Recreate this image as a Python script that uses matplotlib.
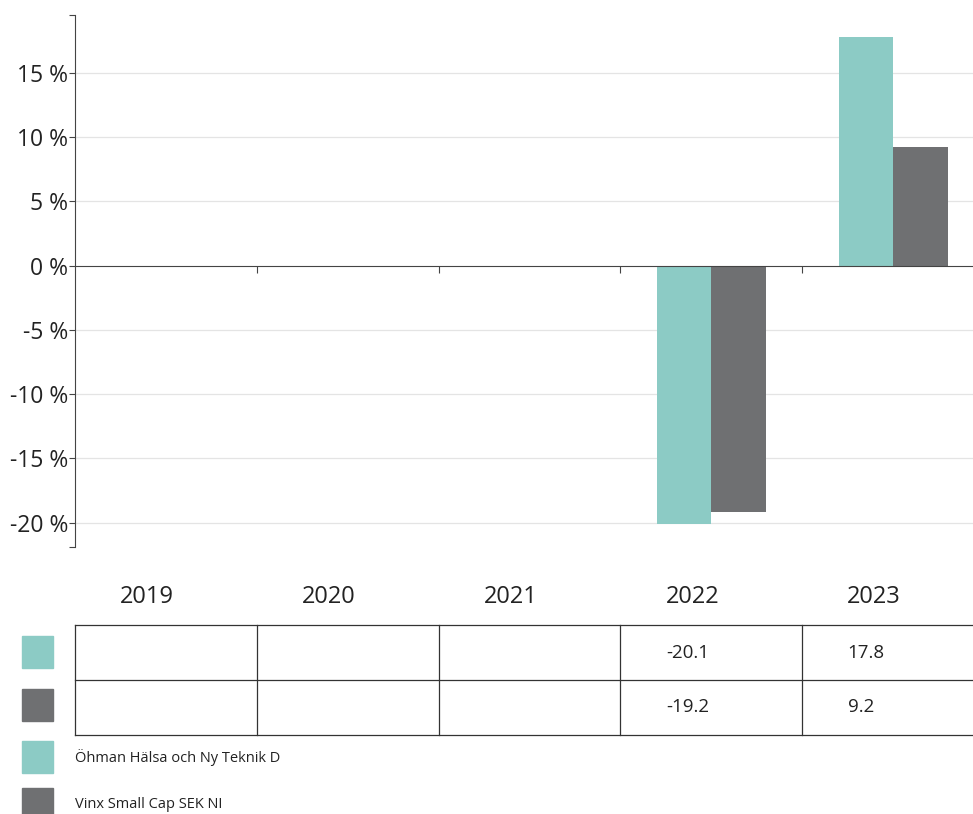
import matplotlib.pyplot as plt
from matplotlib.patches import Rectangle

# Chart data
years = ["2019", "2020", "2021", "2022", "2023"]
series_names = ["Öhman Hälsa och Ny Teknik D", "Vinx Small Cap SEK NI"]
fund_values = [None, None, None, -20.1, 17.8]
index_values = [None, None, None, -19.2, 9.2]
colors = ["#8ccbc5", "#6f7072"]

y_ticks = [-20, -15, -10, -5, 0, 5, 10, 15]
y_min, y_max = -21.9, 19.5

plt.rcParams['font.family'] = ['Open Sans', 'DejaVu Sans']

fig = plt.figure(figsize=(9.73, 8.14), dpi=100)
W, H = 973, 814


def fig_box(left, top, right, bottom):
    # pixel box -> figure fraction [l, b, w, h]
    return [left / W, 1 - bottom / H, (right - left) / W, (bottom - top) / H]


# --- bar chart (runs a little past the right edge, like the original crop) --- #
ax = fig.add_axes(fig_box(75, 15, 984, 547))
x = list(range(len(years)))
width = 0.3
all_series = [fund_values, index_values]
for i, vals in enumerate(all_series):
    xs = [p + (i - 0.5) * width for p, v in zip(x, vals) if v is not None]
    hs = [v for v in vals if v is not None]
    ax.bar(xs, hs, width=width, color=colors[i], zorder=2)

ax.set_xlim(-0.5, len(years) - 0.5)
ax.set_ylim(y_min, y_max)
ax.set_yticks(y_ticks)
ax.set_yticklabels([f"{t} %" for t in y_ticks], fontsize=16.5, color="#222222")
ax.set_yticks([y_min, y_max], minor=True)
ax.tick_params(axis='y', which='both', length=4, width=0.8, color="#444444", pad=1)
for t in y_ticks:
    if t != 0:
        ax.axhline(t, color="#e4e4e4", lw=0.9, zorder=0)

# zero line with category separators
ax.spines['bottom'].set_position(('data', 0))
ax.spines['bottom'].set_color("#444444")
ax.spines['bottom'].set_zorder(3)
ax.spines['left'].set_color("#444444")
ax.spines['top'].set_visible(False)
ax.spines['right'].set_visible(False)
ax.set_xticks([p + 0.5 for p in x[:-1]])
ax.set_xticklabels([])
ax.tick_params(axis='x', length=5, width=0.8, color="#444444", direction='out')

# --- data table --- #
tax = fig.add_axes(fig_box(75, 625, 984, 735), sharex=ax)
tax.set_ylim(0, 2)
tax.axis('off')
for yy in [0, 1, 2]:
    tax.plot([-0.5, len(years) - 0.5], [yy, yy], color="#333333", lw=0.9, clip_on=False)
for xx in [p - 0.5 for p in x] + [len(years) - 0.5]:
    tax.plot([xx, xx], [0, 2], color="#333333", lw=0.9, clip_on=False)
for p, yr in zip(x, years):
    # year headers sit slightly left of the column centre
    tax.text(p - 0.105, 2.51, yr, ha='center', va='center', fontsize=17, color="#222222")
for row, vals in enumerate(all_series):
    for p, v in zip(x, vals):
        if v is not None:
            tax.text(p - 0.25, 1.5 - row, f"{v:.1f}", ha='left', va='center',
                     fontsize=13.5, color="#222222")

# row keys next to table
for row in range(2):
    top = 636 + row * 53
    fig.patches.append(Rectangle((22 / W, 1 - (top + 32) / H), 31 / W, 32 / H,
                                 transform=fig.transFigure, color=colors[row]))

# legend
for row, name in enumerate(series_names):
    top = 741 + row * 47
    fig.patches.append(Rectangle((22 / W, 1 - (top + 32) / H), 31 / W, 32 / H,
                                 transform=fig.transFigure, color=colors[row]))
    fig.text(75 / W, 1 - (top + 16) / H, name, ha='left', va='center',
             fontsize=10.5, color="#222222")

fig.savefig("out.png", dpi=100)
